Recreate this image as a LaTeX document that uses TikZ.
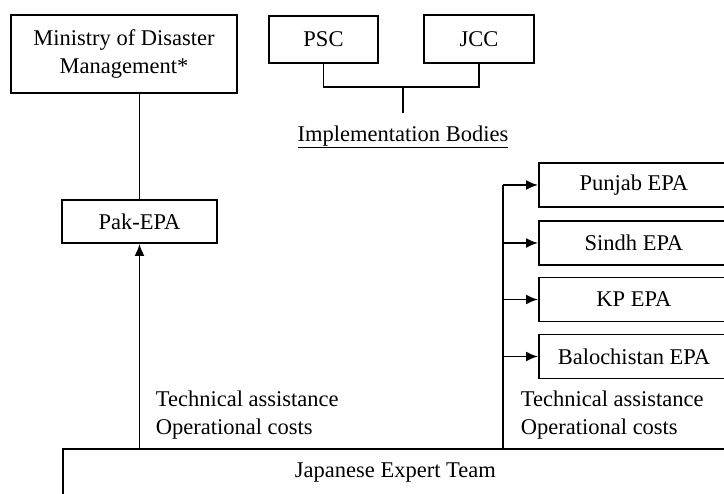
\documentclass[tikz,border=0pt]{standalone}
\usepackage{fontspec}
\setmainfont{Liberation Serif}
\usetikzlibrary{arrows.meta}

\begin{document}
\begin{tikzpicture}[x=1pt, y=-1pt, line width=1.8pt,
    box/.style={draw, rectangle, inner sep=0pt, font=\fontsize{22.5}{27.5}\selectfont, align=center},
    lbl/.style={inner sep=0pt, font=\fontsize{22.5}{27.5}\selectfont, align=left, anchor=west},
    arr/.style={-{Latex[length=12pt,width=10pt]}}]
    \useasboundingbox (0,0) rectangle (724,494);
    \clip (0,0) rectangle (724,494);
    % upper bodies
    \node (mdm) [box, minimum width=226pt, minimum height=78pt] at (124,54) {Ministry of Disaster\\Management*};
    \node (psc) [box, minimum width=109pt, minimum height=47pt] at (323.5,39.5) {PSC};
    \node (jcc) [box, minimum width=110pt, minimum height=48pt] at (479,39) {JCC};
    \node (ib) [inner sep=0pt, font=\fontsize{22.5}{27.5}\selectfont] at (403,137) {\underline{Implementation Bodies}};
    \coordinate (jn) at (403,87);
    \draw (psc.south) |- (jn) -| (jcc.south);
    \draw (jn) -- (403,113);
    % implementing agencies
    \node (pak) [box, minimum width=155pt, minimum height=43pt] at (139.5,221.5) {Pak-EPA};
    \draw (mdm.south -| pak) -- (pak.north);
    \node (jet) [box, minimum width=665pt, minimum height=48pt, anchor=north west] at (62,448) {Japanese Expert Team};
    \node (punjab) [box, minimum width=190pt, minimum height=44pt, anchor=west] at (538,185) {Punjab EPA};
    \node (sindh) [box, minimum width=190pt, minimum height=44pt, anchor=west] at (538,243) {Sindh EPA};
    \node (kp) [box, minimum width=190pt, minimum height=44pt, anchor=west] at (538,299.5) {KP EPA};
    \node (balo) [box, minimum width=190pt, minimum height=44pt, anchor=west] at (538,356.5) {Balochistan EPA};
    % support flows
    \draw [arr] (jet.north -| pak) -- (pak.south);
    \coordinate (fork) at (503,448);
    \draw (fork) -- (503,185);
    \foreach \n in {punjab,sindh,kp,balo}
        \draw [arr] (fork |- \n.west) -- (\n.west);
    \node (tl) [lbl] at (155,415) {Technical assistance\\Operational costs};
    \node (tr) [lbl] at (520,415) {Technical assistance\\Operational costs};
\end{tikzpicture}
\end{document}
